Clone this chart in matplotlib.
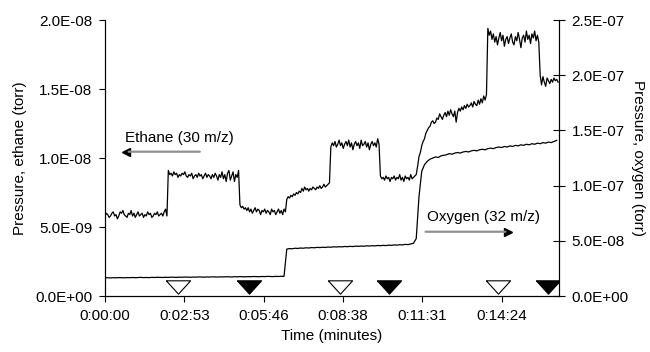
#!/usr/bin/python3

import numpy as np
import matplotlib
matplotlib.use("Agg")
import matplotlib.pyplot as plt
from matplotlib.ticker import FuncFormatter

plt.rcParams["font.family"] = ["Liberation Sans", "DejaVu Sans"]
plt.rcParams["font.size"] = 11

# sample steps of the traces (seconds)
ETH_STEP = 3
OXY_STEP = 6

# ethane signal, 30 m/z (units of 1e-9 torr), one value every 3 s
ethane = [5.8, 6.0, 5.9, 5.7, 5.8, 6.0, 6.1, 5.8, 5.9, 5.6,
          5.8, 6.1, 6.0, 6.2, 5.9, 5.8, 5.7, 6.0, 5.9, 6.2,
          5.8, 6.0, 5.7, 5.9, 6.1, 5.8, 5.9, 6.0, 5.7, 5.9,
          5.8, 6.1, 5.9, 6.0, 5.7, 5.8, 6.0, 5.9, 6.1, 5.8,
          5.9, 6.0, 5.8, 6.1, 6.3, 5.8,
          # first ethane pulse
          9.1, 8.8, 8.9, 8.7, 9.0, 8.8, 8.9, 8.6, 8.8, 8.7,
          8.9, 8.8, 9.0, 8.7, 8.6, 8.8, 8.7, 8.9, 8.5, 8.7,
          8.8, 8.6, 8.9, 8.7, 8.8, 8.5, 8.7, 8.9, 8.6, 8.8,
          8.7, 8.5, 8.8, 8.6, 8.9, 8.7, 8.4, 8.8, 8.6, 9.0,
          8.5, 8.8, 8.3, 8.9, 9.1, 8.4, 8.7, 9.0, 8.3, 8.8, 8.6, 9.1,
          6.6, 6.4, 6.5, 6.3, 6.4, 6.2, 6.4, 6.1, 6.3, 6.0,
          6.2, 6.4, 6.1, 6.3, 6.2, 5.9, 6.2, 6.1, 6.3, 6.0,
          6.2, 6.1, 5.9, 6.3, 6.1, 6.2, 5.9, 6.1, 6.3, 6.0,
          6.2, 5.9, 6.3, 6.1,
          # oxygen switched on
          7.0, 7.2, 7.1, 7.3, 7.2, 7.4, 7.3, 7.5, 7.4, 7.6,
          7.5, 7.8, 7.6, 7.9, 7.7, 7.8, 7.6, 7.8, 7.7, 7.9,
          7.8, 7.7, 7.9, 7.8, 8.0, 7.8, 7.9, 8.1, 7.9, 8.0,
          8.1, 8.2,
          10.8, 11.1, 10.9, 11.2, 10.8, 11.0, 11.3, 10.9, 11.1, 10.7,
          11.0, 11.2, 10.9, 11.3, 10.8, 11.1, 10.6, 11.0, 11.2, 10.9,
          11.1, 10.7, 11.3, 10.9, 11.0, 11.2, 10.8, 11.1, 10.6, 11.0,
          11.2, 10.9, 11.1, 10.8, 11.4, 11.0,
          8.7, 8.5, 8.6, 8.4, 8.7, 8.5, 8.6, 8.3, 8.6, 8.5,
          8.7, 8.4, 8.6, 8.5, 8.8, 8.4, 8.6, 8.3, 8.7, 8.5,
          8.6, 8.4, 8.8, 8.5, 8.6, 8.7,
          # more oxygen
          8.8, 9.4, 10.1, 10.4, 10.9, 11.2, 11.4, 11.8, 12.0, 12.2,
          12.3, 12.6, 12.7, 12.5, 12.6, 12.9, 12.8, 13.2, 13.0, 12.8,
          13.1, 13.3, 13.0, 13.4, 13.1, 13.5, 13.2, 13.0, 13.4, 12.6,
          13.3, 13.6, 13.4, 13.7, 13.5, 13.8, 13.6, 13.9, 13.7, 13.8,
          14.0, 13.7, 14.1, 13.9, 13.8, 14.2, 13.9, 14.3, 14.0, 14.5,
          14.2, 14.6,
          19.4, 18.9, 19.2, 18.6, 19.0, 18.4, 18.8, 18.2, 18.7, 19.1,
          18.5, 18.9, 18.1, 18.6, 18.8, 18.3, 18.7, 19.0, 18.4, 18.2,
          18.8, 18.5, 19.1, 18.6, 18.0, 18.7, 18.9, 18.4, 19.2, 18.6,
          18.9, 18.3, 19.0, 18.7, 19.2, 18.5, 18.9, 18.4,
          16.0, 15.3, 15.9, 15.5, 15.2, 15.8, 15.6, 15.4, 15.7, 15.5,
          15.8, 15.6, 15.7, 15.5]

# oxygen signal, 32 m/z (units of 1e-8 torr), one value every 6 s
oxygen = [1.65, 1.66, 1.64, 1.66, 1.65, 1.67, 1.66, 1.65, 1.67, 1.66,
          1.68, 1.66, 1.67, 1.69, 1.67, 1.68, 1.67, 1.69, 1.68, 1.70,
          1.69, 1.68, 1.70, 1.69, 1.71, 1.70, 1.69, 1.71, 1.70, 1.72,
          1.71, 1.70, 1.72, 1.71, 1.73, 1.72, 1.71, 1.73, 1.72, 1.74,
          1.73, 1.72, 1.74, 1.73, 1.75, 1.74, 1.73, 1.75, 1.74, 1.76,
          1.75, 1.74, 1.76, 1.75, 1.77, 1.76, 1.75, 1.77, 1.76, 1.78,
          1.77, 1.76, 1.78, 1.77, 1.79, 1.78,
          4.25, 4.30, 4.28, 4.33, 4.31, 4.35, 4.33, 4.37, 4.35, 4.39,
          4.37, 4.41, 4.39, 4.42, 4.40, 4.44, 4.42, 4.46, 4.44, 4.47,
          4.45, 4.49, 4.47, 4.50, 4.48, 4.52, 4.50, 4.53, 4.51, 4.55,
          4.53, 4.56, 4.54, 4.58, 4.56, 4.59, 4.57, 4.61, 4.59, 4.63,
          4.61, 4.65, 4.63, 4.68, 4.66, 4.72, 4.78,
          5.2, 9.0, 11.3, 11.9, 12.2, 12.4, 12.5, 12.6, 12.55, 12.7,
          12.75, 12.8, 12.9, 12.85, 12.95, 13.0, 12.95, 13.05, 13.1, 13.05,
          13.15, 13.2, 13.15, 13.25, 13.3, 13.25, 13.35, 13.4, 13.35, 13.45,
          13.5, 13.45, 13.55, 13.5, 13.6, 13.55, 13.65, 13.6, 13.7, 13.65,
          13.75, 13.7, 13.8, 13.75, 13.85, 13.8, 13.9, 13.85, 13.95, 13.9,
          14.0, 14.1]

# event markers (seconds): open = valve on, filled = valve off
open_events = [159, 512, 856]
filled_events = [314, 619, 965]

# x ticks every 0.002 day (172.8 s), as excel does it
xtick_secs = [0, 172.8, 345.6, 518.4, 691.2, 864.0]
x_end = 989


def hms(sec, pos=None):
    '''seconds -> h:mm:ss'''
    s = int(round(sec))
    return "%d:%02d:%02d" % (s // 3600, (s % 3600) // 60, s % 60)


def sci(v, pos=None):
    return "%.1E" % v


def main():
    t_eth = np.arange(len(ethane)) * ETH_STEP
    t_oxy = np.arange(len(oxygen)) * OXY_STEP

    fig = plt.figure(figsize=(6.5, 3.52), dpi=100)
    ax = fig.add_axes([0.1615, 0.159, 0.6985, 0.784])
    ax2 = ax.twinx()

    # traces
    ax.plot(t_eth, np.array(ethane) * 1e-9, color="black", lw=0.9)
    ax2.plot(t_oxy, np.array(oxygen) * 1e-8, color="black", lw=0.9)

    # flattened down triangles for the events
    tri = [(-1, 0.55), (1, 0.55), (0, -0.55), (-1, 0.55)]
    ax.plot(open_events, [0.69e-9] * len(open_events), linestyle="none",
            marker=tri, markersize=17.5, markerfacecolor="white",
            markeredgecolor="black", markeredgewidth=0.8)
    ax.plot(filled_events, [0.69e-9] * len(filled_events), linestyle="none",
            marker=tri, markersize=17.5, markerfacecolor="black",
            markeredgecolor="black", markeredgewidth=0.8)

    # axes limits and ticks
    ax.set_xlim(0, x_end)
    ax.set_ylim(0, 2.0e-8)
    ax2.set_ylim(0, 2.5e-7)
    ax.set_xticks(xtick_secs)
    ax.xaxis.set_major_formatter(FuncFormatter(hms))
    ax.set_yticks(np.arange(0, 2.01e-8, 5e-9))
    ax2.set_yticks(np.arange(0, 2.51e-7, 5e-8))
    ax.yaxis.set_major_formatter(FuncFormatter(sci))
    ax2.yaxis.set_major_formatter(FuncFormatter(sci))

    ax.tick_params(axis="both", direction="out", length=4, width=0.8, pad=5)
    ax2.tick_params(axis="y", direction="inout", length=8, width=0.8, pad=5)

    for a in (ax, ax2):
        a.spines["top"].set_visible(False)
        for side in ("left", "right", "bottom"):
            a.spines[side].set_linewidth(0.8)

    # labels
    ax.set_xlabel("Time (minutes)", labelpad=5)
    ax.set_ylabel("Pressure, ethane (torr)", labelpad=6)
    ax2.set_ylabel("Pressure, oxygen (torr)", rotation=-90, labelpad=12)

    # series annotations with arrows
    ax.text(0.044, 0.574, "Ethane (30 m/z)", transform=ax.transAxes,
            ha="left", va="center")
    ax.annotate("", xy=(0.046, 0.523), xytext=(0.215, 0.523),
                xycoords="axes fraction", textcoords="axes fraction",
                arrowprops=dict(arrowstyle="-", color="#909090", lw=1.6))
    ax.plot([0.046], [0.523], marker="<", color="black", markersize=6,
            transform=ax.transAxes, clip_on=False)

    ax.text(0.710, 0.287, "Oxygen (32 m/z)", transform=ax.transAxes,
            ha="left", va="center")
    ax.annotate("", xy=(0.888, 0.233), xytext=(0.700, 0.233),
                xycoords="axes fraction", textcoords="axes fraction",
                arrowprops=dict(arrowstyle="-", color="#909090", lw=1.6))
    ax.plot([0.888], [0.233], marker=">", color="black", markersize=6,
            transform=ax.transAxes, clip_on=False)

    plt.savefig("out.png", dpi=100)
    print("graph created")


main()
